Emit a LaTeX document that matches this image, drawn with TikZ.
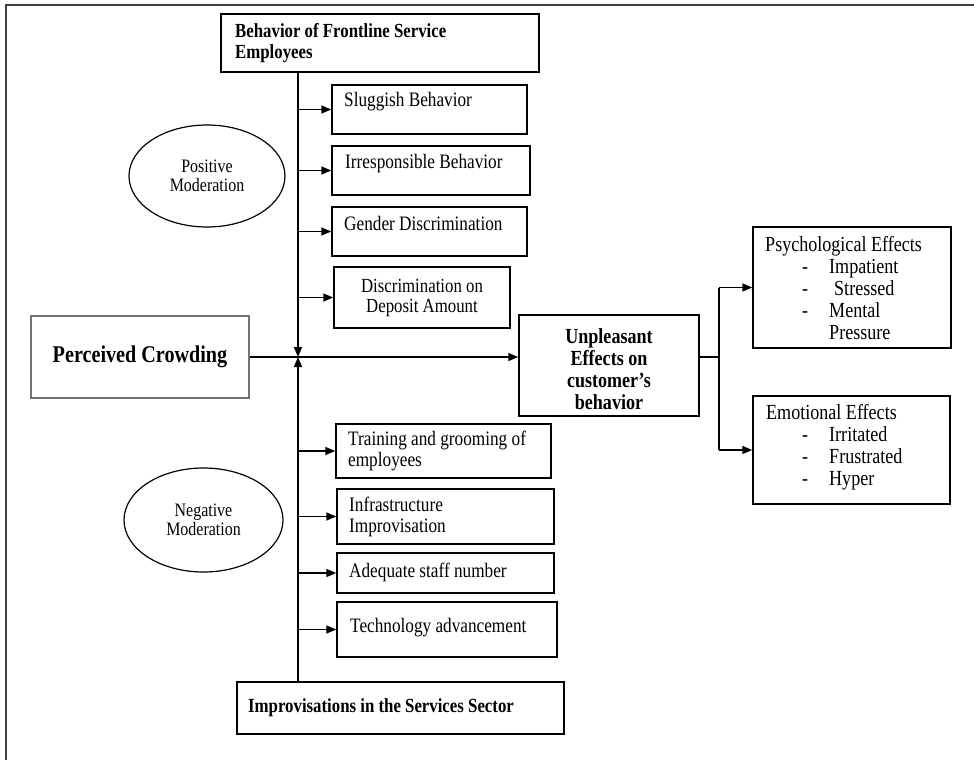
\documentclass[tikz,border=0pt]{standalone}
\usepackage{fontspec}
\setmainfont[FakeStretch=0.84]{Liberation Serif}
\usetikzlibrary{arrows.meta,shapes.geometric}
\begin{document}
\begin{tikzpicture}[x=1pt,y=-1pt,
  box/.style={draw,line width=1.5pt,inner sep=0pt},
  txt/.style={inner sep=0pt,font=\fontsize{20.5}{21}\selectfont,align=left},
  btxt/.style={inner sep=0pt,font=\fontsize{20}{20.5}\selectfont\bfseries,align=left},
  oval/.style={draw,ellipse,line width=1.2pt,inner sep=0pt,align=center,font=\fontsize{19}{19}\selectfont},
  conn/.style={line width=1.5pt},
  arr/.style={line width=1.5pt,-{Triangle[length=10pt,width=8pt]}}]
\useasboundingbox (0,0) rectangle (974,760);
\fill[white] (0,0) rectangle (974,760);
% frame
\draw[line width=1.8pt,black!75] (6,760) -- (6,5) -- (974,5);
% boxes
\node[box,minimum width=318pt,minimum height=58pt] (top) at (380,43) {};
\node[box,minimum width=195pt,minimum height=49pt] (slug) at (429.5,109.5) {};
\node[box,minimum width=198pt,minimum height=49pt] (irr) at (431,170.5) {};
\node[box,minimum width=195pt,minimum height=49pt] (gen) at (429.5,231.5) {};
\node[box,minimum width=176pt,minimum height=61pt] (dis) at (422,297.5) {};
\node[box,draw=black!55,minimum width=218pt,minimum height=82pt] (pc) at (140,357) {};
\node[box,minimum width=180pt,minimum height=101pt] (unp) at (609,365.5) {};
\node[box,minimum width=198pt,minimum height=121pt] (psy) at (852,287.5) {};
\node[box,minimum width=197pt,minimum height=108pt] (emo) at (851.5,450) {};
\node[box,minimum width=215pt,minimum height=54pt] (tr) at (443.5,451) {};
\node[box,minimum width=217pt,minimum height=55pt] (inf) at (445.5,516.5) {};
\node[box,minimum width=217pt,minimum height=40pt] (adq) at (445.5,573) {};
\node[box,minimum width=220pt,minimum height=55pt] (tec) at (447,629.5) {};
\node[box,minimum width=327pt,minimum height=52pt] (imp) at (400.5,708) {};
% ellipses
\node[oval,minimum width=156pt,minimum height=102pt] (pos) at (207,176) {Positive\\Moderation};
\node[oval,minimum width=159pt,minimum height=104pt] (neg) at (203.5,520) {Negative\\Moderation};
% texts
\node[btxt,anchor=west] (ttop) at (235,43) {Behavior of Frontline Service\\Employees};
\node[txt,anchor=west] (tslug) at (344,102) {Sluggish Behavior};
\node[txt,anchor=west] (tirr) at (345,164) {Irresponsible Behavior};
\node[txt,anchor=west] (tgen) at (344,223) {Gender Discrimination};
\node[txt,align=center,font=\fontsize{20}{20.5}\selectfont] (tdis) at (422,298) {Discrimination on\\Deposit Amount};
\node[inner sep=0pt,font=\fontsize{24}{24}\selectfont\bfseries] (tpc) at (140,357) {Perceived Crowding};
\node[inner sep=0pt,align=center,font=\fontsize{21.5}{22}\selectfont\bfseries] (tunp) at (609,369) {Unpleasant\\Effects on\\customer’s\\behavior};
\node[inner sep=0pt,align=left,font=\fontsize{21.5}{22}\selectfont,anchor=west] (tpsy) at (765,288) {Psychological Effects\\
\hspace*{37pt}\makebox[27pt][l]{-}Impatient\\
\hspace*{37pt}\makebox[27pt][l]{-}\hspace*{5pt}Stressed\\
\hspace*{37pt}\makebox[27pt][l]{-}Mental\\
\hspace*{64pt}Pressure};
\node[inner sep=0pt,align=left,font=\fontsize{21.5}{22}\selectfont,anchor=west] (temo) at (766,447) {Emotional Effects\\
\hspace*{36pt}\makebox[27pt][l]{-}Irritated\\
\hspace*{36pt}\makebox[27pt][l]{-}Frustrated\\
\hspace*{36pt}\makebox[27pt][l]{-}Hyper};
\node[txt,anchor=west] (ttr) at (348,451) {Training and grooming of\\employees};
\node[txt,anchor=west] (tinf) at (349,517) {Infrastructure\\Improvisation};
\node[txt,anchor=west] (tadq) at (349,572) {Adequate staff number};
\node[txt,anchor=west] (ttec) at (350,628) {Technology advancement};
\node[btxt,anchor=west] (timp) at (248,708) {Improvisations in the Services Sector};
% connectors
\coordinate (vx) at (298,357);
\coordinate (sp) at (719,357);
\draw[arr] (top.south -| vx) -- (vx);
\draw[arr] (imp.north -| vx) -- (vx);
\draw[arr] (pc.east) -- (pc.east -| unp.west);
\foreach \b in {slug,irr,gen,dis,tr,inf,adq,tec}
  \draw[arr] (\b.west -| vx) -- (\b.west);
\draw[conn] (unp.east |- sp) -- (sp);
\draw[conn] (psy.west -| sp) -- (emo.west -| sp);
\draw[arr] (psy.west -| sp) -- (psy.west);
\draw[arr] (emo.west -| sp) -- (emo.west);
\end{tikzpicture}
\end{document}
